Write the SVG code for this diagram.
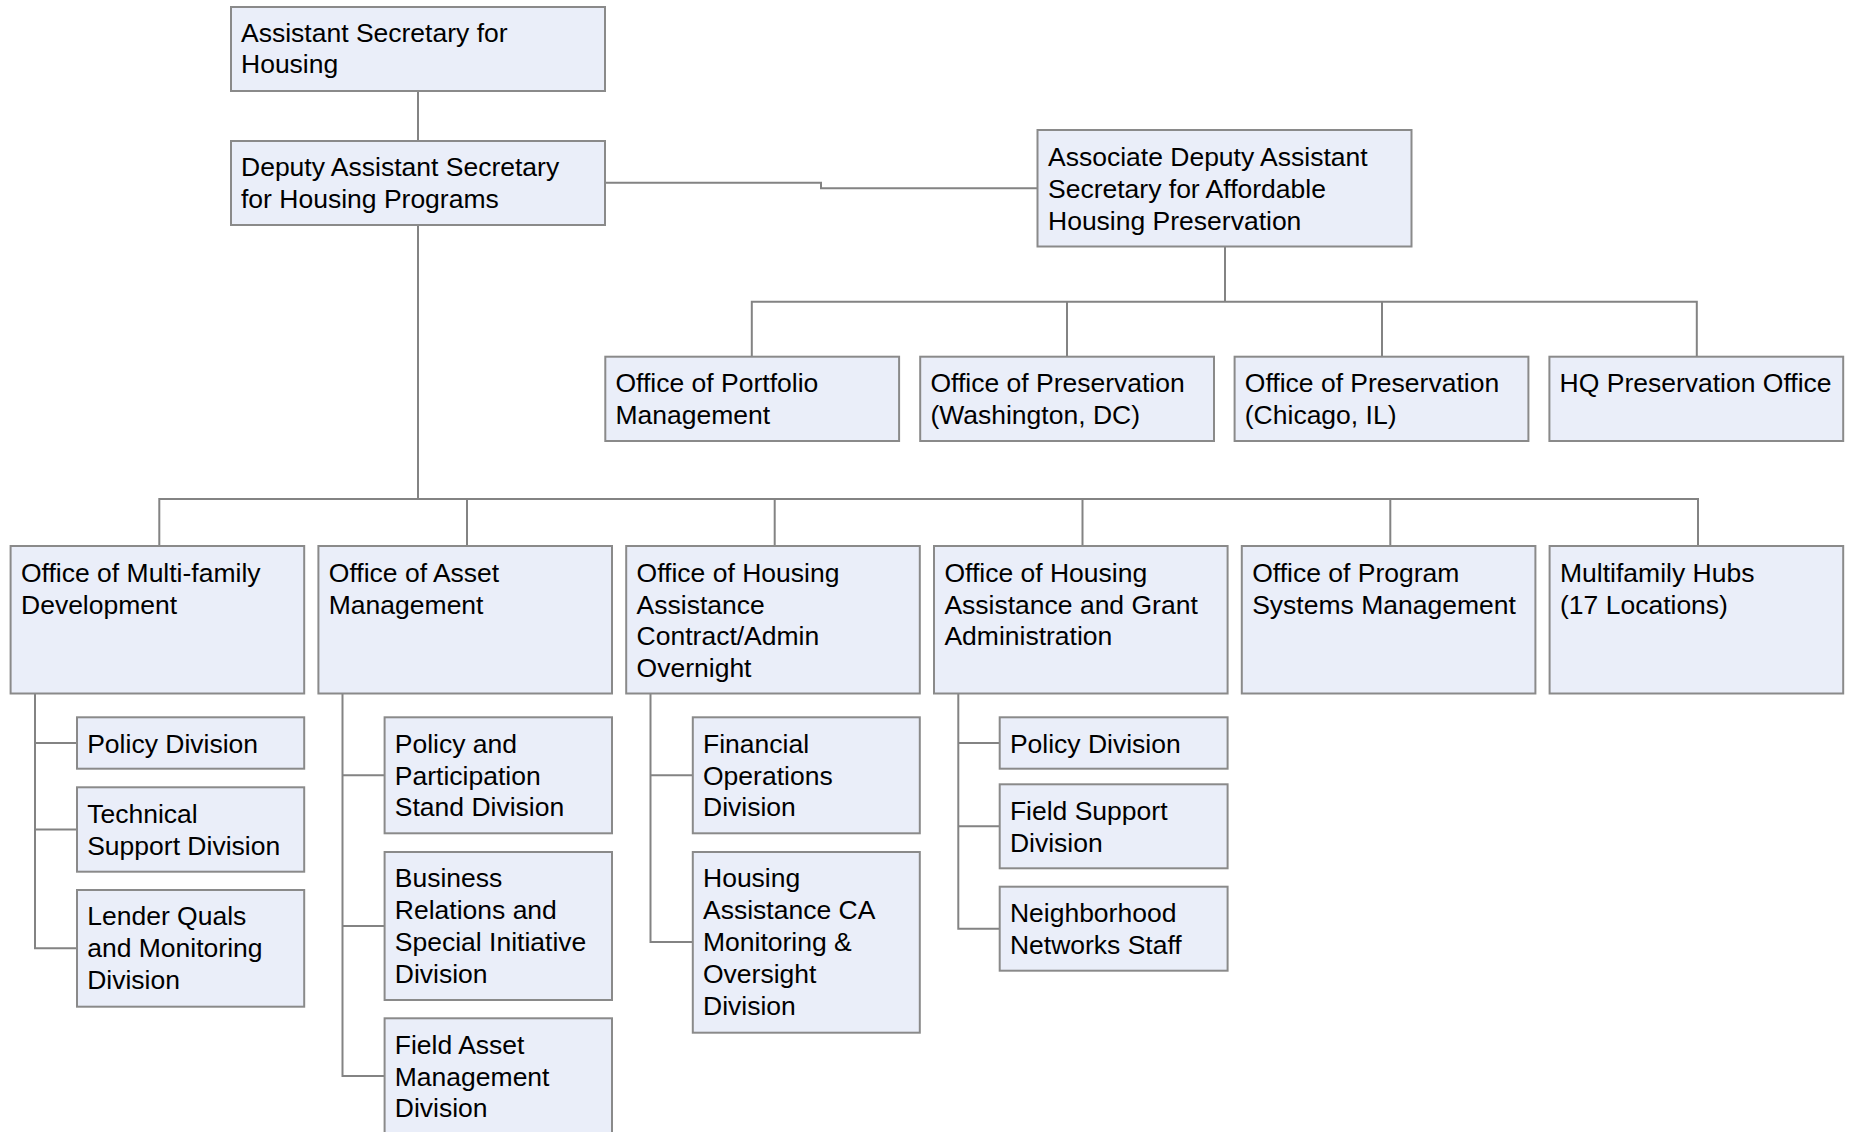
<svg xmlns="http://www.w3.org/2000/svg" width="1849" height="1132" viewBox="0 0 1849 1132">
<style>
  .box { fill: #EAEEF9; stroke: #8A8A8A; stroke-width: 2; }
  .t { font-family: "Liberation Sans", Arial, sans-serif; font-size: 26.5px; fill: #000; }
  .c { fill: none; stroke: #838383; stroke-width: 2; }
</style>
<rect width="1849" height="1132" fill="#FFFFFF"/>
<g id="connectors">
  <path class="c" d="M418 91 V141"/>
  <path class="c" d="M605 182.7 H821 V188.3 H1037.5"/>
  <path class="c" d="M1225 246.5 V301.7"/>
  <path class="c" d="M751.8 356.7 V301.7 H1696.8 V356.7"/>
  <path class="c" d="M1067 301.7 V356.7"/>
  <path class="c" d="M1382 301.7 V356.7"/>
  <path class="c" d="M418 225 V499"/>
  <path class="c" d="M159.3 546 V499 H1698 V546"/>
  <path class="c" d="M467 499 V546"/>
  <path class="c" d="M774.7 499 V546"/>
  <path class="c" d="M1082.5 499 V546"/>
  <path class="c" d="M1390.3 499 V546"/>
  <path class="c" d="M35 693.5 V948.3 H77"/>
  <path class="c" d="M35 743 H77 M35 829.5 H77"/>
  <path class="c" d="M342.5 693.5 V1076 H384.6"/>
  <path class="c" d="M342.5 775.3 H384.6 M342.5 926 H384.6"/>
  <path class="c" d="M650.5 693.5 V942 H692.8"/>
  <path class="c" d="M650.5 775.3 H692.8"/>
  <path class="c" d="M958.3 693.5 V928.7 H999.7"/>
  <path class="c" d="M958.3 743 H999.7 M958.3 826.3 H999.7"/>
</g>
<g id="n-ash">
  <rect class="box" x="231" y="7" width="374" height="84"/>
  <text class="t" x="241" y="41.5">Assistant Secretary for</text>
  <text class="t" x="241" y="73.3">Housing</text>
</g>
<g id="n-dash">
  <rect class="box" x="231" y="141" width="374" height="84"/>
  <text class="t" x="241" y="176">Deputy Assistant Secretary</text>
  <text class="t" x="241" y="207.8">for Housing Programs</text>
</g>
<g id="n-adas">
  <rect class="box" x="1037.5" y="130" width="374" height="116.5"/>
  <text class="t" x="1048" y="166">Associate Deputy Assistant</text>
  <text class="t" x="1048" y="197.8">Secretary for Affordable</text>
  <text class="t" x="1048" y="229.6">Housing Preservation</text>
</g>
<g id="n-portfolio">
  <rect class="box" x="605.3" y="356.7" width="293.8" height="84.3"/>
  <text class="t" x="615.5" y="392">Office of Portfolio</text>
  <text class="t" x="615.5" y="423.8">Management</text>
</g>
<g id="n-pres-dc">
  <rect class="box" x="920.2" y="356.7" width="293.8" height="84.3"/>
  <text class="t" x="930.4" y="392">Office of Preservation</text>
  <text class="t" x="930.4" y="423.8">(Washington, DC)</text>
</g>
<g id="n-pres-il">
  <rect class="box" x="1234.6" y="356.7" width="293.8" height="84.3"/>
  <text class="t" x="1244.8" y="392">Office of Preservation</text>
  <text class="t" x="1244.8" y="423.8">(Chicago, IL)</text>
</g>
<g id="n-hq-pres">
  <rect class="box" x="1549.4" y="356.7" width="293.8" height="84.3"/>
  <text class="t" x="1559.6" y="392">HQ Preservation Office</text>
</g>
<g id="n-mf-dev">
  <rect class="box" x="10.6" y="546" width="293.6" height="147.5"/>
  <text class="t" x="21" y="581.7">Office of Multi-family</text>
  <text class="t" x="21" y="613.5">Development</text>
</g>
<g id="n-asset">
  <rect class="box" x="318.4" y="546" width="293.6" height="147.5"/>
  <text class="t" x="328.8" y="581.7">Office of Asset</text>
  <text class="t" x="328.8" y="613.5">Management</text>
</g>
<g id="n-hacao">
  <rect class="box" x="626.2" y="546" width="293.6" height="147.5"/>
  <text class="t" x="636.6" y="581.7">Office of Housing</text>
  <text class="t" x="636.6" y="613.5">Assistance</text>
  <text class="t" x="636.6" y="645.3">Contract/Admin</text>
  <text class="t" x="636.6" y="677.1">Overnight</text>
</g>
<g id="n-haga">
  <rect class="box" x="934" y="546" width="293.6" height="147.5"/>
  <text class="t" x="944.4" y="581.7">Office of Housing</text>
  <text class="t" x="944.4" y="613.5">Assistance and Grant</text>
  <text class="t" x="944.4" y="645.3">Administration</text>
</g>
<g id="n-psm">
  <rect class="box" x="1241.8" y="546" width="293.6" height="147.5"/>
  <text class="t" x="1252.2" y="581.7">Office of Program</text>
  <text class="t" x="1252.2" y="613.5">Systems Management</text>
</g>
<g id="n-hubs">
  <rect class="box" x="1549.6" y="546" width="293.6" height="147.5"/>
  <text class="t" x="1560" y="581.7">Multifamily Hubs</text>
  <text class="t" x="1560" y="613.5">(17 Locations)</text>
</g>
<g id="n-mf-policy">
  <rect class="box" x="77" y="717.3" width="227.2" height="51.4"/>
  <text class="t" x="87.2" y="752.7">Policy Division</text>
</g>
<g id="n-mf-tech">
  <rect class="box" x="77" y="787.3" width="227.2" height="84.4"/>
  <text class="t" x="87.2" y="822.7">Technical</text>
  <text class="t" x="87.2" y="854.5">Support Division</text>
</g>
<g id="n-mf-lender">
  <rect class="box" x="77" y="890" width="227.2" height="116.7"/>
  <text class="t" x="87.2" y="925.4">Lender Quals</text>
  <text class="t" x="87.2" y="957.2">and Monitoring</text>
  <text class="t" x="87.2" y="989">Division</text>
</g>
<g id="n-am-policy">
  <rect class="box" x="384.6" y="717.3" width="227.4" height="116"/>
  <text class="t" x="394.8" y="752.7">Policy and</text>
  <text class="t" x="394.8" y="784.5">Participation</text>
  <text class="t" x="394.8" y="816.3">Stand Division</text>
</g>
<g id="n-am-business">
  <rect class="box" x="384.6" y="852" width="227.4" height="148"/>
  <text class="t" x="394.8" y="887.4">Business</text>
  <text class="t" x="394.8" y="919.2">Relations and</text>
  <text class="t" x="394.8" y="951">Special Initiative</text>
  <text class="t" x="394.8" y="982.8">Division</text>
</g>
<g id="n-am-field">
  <rect class="box" x="384.6" y="1018.3" width="227.4" height="116"/>
  <text class="t" x="394.8" y="1053.7">Field Asset</text>
  <text class="t" x="394.8" y="1085.5">Management</text>
  <text class="t" x="394.8" y="1117.3">Division</text>
</g>
<g id="n-ha-fin">
  <rect class="box" x="692.8" y="717.3" width="227" height="116"/>
  <text class="t" x="703" y="752.7">Financial</text>
  <text class="t" x="703" y="784.5">Operations</text>
  <text class="t" x="703" y="816.3">Division</text>
</g>
<g id="n-ha-ca">
  <rect class="box" x="692.8" y="852" width="227" height="180.7"/>
  <text class="t" x="703" y="887.4">Housing</text>
  <text class="t" x="703" y="919.2">Assistance CA</text>
  <text class="t" x="703" y="951">Monitoring &amp;</text>
  <text class="t" x="703" y="982.8">Oversight</text>
  <text class="t" x="703" y="1014.6">Division</text>
</g>
<g id="n-hg-policy">
  <rect class="box" x="999.7" y="717.3" width="227.9" height="51.4"/>
  <text class="t" x="1009.9" y="752.7">Policy Division</text>
</g>
<g id="n-hg-field">
  <rect class="box" x="999.7" y="784.3" width="227.9" height="84"/>
  <text class="t" x="1009.9" y="819.7">Field Support</text>
  <text class="t" x="1009.9" y="851.5">Division</text>
</g>
<g id="n-hg-nn">
  <rect class="box" x="999.7" y="886.7" width="227.9" height="84"/>
  <text class="t" x="1009.9" y="922.1">Neighborhood</text>
  <text class="t" x="1009.9" y="953.9">Networks Staff</text>
</g>
</svg>
